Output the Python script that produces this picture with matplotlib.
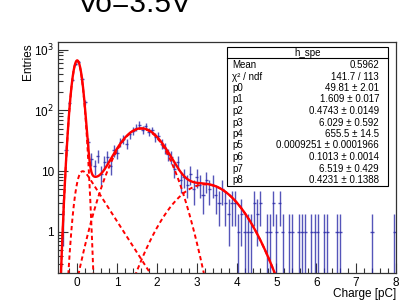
import numpy as np
import matplotlib
matplotlib.use("Agg")
import matplotlib.pyplot as plt
from matplotlib.ticker import FixedLocator, NullFormatter
from math import erfc

plt.rcParams.update({
    'font.family': ['Liberation Sans', 'DejaVu Sans'],
    'font.size': 8.5,
})

# histogram h_spe : bin width 0.08 pC, first bin centre -0.44 pC
bin_width = 0.08
first_center = -0.44
counts = [
    0, 2, 22, 130, 320, 580, 620, 330, 135, 30,
    16, 12, 18, 9, 14, 17, 12, 22, 20, 30,
    34, 28, 40, 46, 52, 58, 48, 55, 44, 47,
    36, 38, 28, 24, 19, 17, 11, 14, 7, 8,
    6, 9, 5, 8, 6, 4, 7, 5, 6, 4,
    3, 5, 3, 2, 3, 3, 1, 2, 1, 1,
    1, 3, 2, 3, 0, 1, 1, 3, 1, 3,
    1, 0, 1, 1, 0, 1, 1, 1, 0, 1,
    1, 1, 0, 1, 1, 0, 0, 1, 1, 0,
    0, 0, 0, 0, 0, 0, 0, 0, 1, 0,
    0, 0, 0, 0, 0, 1,
]

# fit results shown in the stats box
stat_names = ['Mean', 'χ² / ndf', 'p0', 'p1', 'p2', 'p3', 'p4', 'p5', 'p6', 'p7', 'p8']
stat_values = ['0.5962', '141.7 / 113', '49.81 ± 2.01', '1.609 ± 0.017',
               '0.4743 ± 0.0149', '6.029 ± 0.592', '655.5 ± 14.5',
               '0.0009251 ± 0.0001966', '0.1013 ± 0.0014', '6.519 ± 0.429',
               '0.4231 ± 0.1388']
p = [49.81, 1.609, 0.4743, 6.029, 655.5, 0.0009251, 0.1013, 6.519, 0.4231]


def pedestal(x):
    return p[4] * np.exp(-(x - p[5]) ** 2 / (2 * p[6] ** 2))


def spe(x):
    return p[0] * np.exp(-(x - p[1]) ** 2 / (2 * p[2] ** 2))


def two_pe(x):
    s = np.sqrt(2) * p[2]
    return p[3] * np.exp(-(x - 2 * p[1]) ** 2 / (2 * s ** 2))


def expo_bkg(x):
    s, tau = p[6], p[8]
    arg = (s / tau - (x - p[5]) / s) / np.sqrt(2)
    e = np.array([erfc(a) for a in arg])
    return p[7] / tau * np.exp(s ** 2 / (2 * tau ** 2) - (x - p[5]) / tau) * 0.5 * e


W, H = 416, 303
fig = plt.figure(figsize=(W / 100, H / 100), dpi=100)
ax = fig.add_axes([58 / W, 1 - 273 / H, (396 - 58) / W, (273 - 42) / H])

ax.set_yscale('log')
ax.set_xlim(-0.48, 8.0)
ax.set_ylim(0.21, 1330)

# data points with errors
counts = np.array(counts, dtype=float)
centers = first_center + bin_width * np.arange(len(counts))
m = counts > 0
n = counts[m]
err = np.sqrt(n)
lo = np.where(n - err > 0, n - err, 1e-3)
ax.errorbar(centers[m], n, yerr=[n - lo, err], xerr=bin_width / 2,
            fmt='none', ecolor='#2a2aa8', elinewidth=1.0, alpha=0.8, capsize=0)

# fit and its components
xf = np.linspace(-0.48, 8.0, 1500)
for comp in (pedestal, spe, two_pe, expo_bkg):
    ax.plot(xf, comp(xf), color='red', lw=1.4, ls=(0, (2.2, 1.6)))
total = pedestal(xf) + spe(xf) + two_pe(xf) + expo_bkg(xf)
ax.plot(xf, total, color='red', lw=1.7)

# axes styling (ROOT-like)
ax.xaxis.set_major_locator(FixedLocator(range(0, 9)))
ax.xaxis.set_minor_locator(FixedLocator(np.arange(-0.4, 8.01, 0.2)))
ax.set_yticks([1, 10, 100, 1000])
ax.set_yticklabels(['1', '10', '10$^{2}$', '10$^{3}$'])
ax.yaxis.set_minor_formatter(NullFormatter())
ax.tick_params(which='both', direction='in', top=False, right=False,
               labelsize=8.5, width=0.8, color='#333333')
ax.tick_params(which='major', length=7, pad=3)
ax.tick_params(which='minor', length=3.5)
for sp in ax.spines.values():
    sp.set_linewidth(0.9)
    sp.set_color('#333333')

fig.text(396 / W, 1 - 294 / H, 'Charge [pC]', ha='right', va='center', fontsize=8.5)
fig.text(28 / W, 1 - 43 / H, 'Entries', ha='center', va='top', rotation=90, fontsize=8.5)

# title, partly outside the canvas like the reference
fig.text(78 / W, 1 - 12 / H, 'Vo=3.5V', ha='left', va='baseline', fontsize=21.5)

# stats box
bx0, bx1, by0, by1 = 227, 388, 47, 186
fig.patches.append(plt.Rectangle((bx0 / W, 1 - by1 / H), (bx1 - bx0) / W, (by1 - by0) / H,
                                 transform=fig.transFigure, facecolor='white',
                                 edgecolor='black', lw=0.8, zorder=5))
fig.lines.append(plt.Line2D([bx0 / W, bx1 / W], [1 - 58.5 / H, 1 - 58.5 / H],
                            transform=fig.transFigure, color='black', lw=0.8, zorder=6))
fig.text((bx0 + bx1) / 2 / W, 1 - 53 / H, 'h_spe', ha='center', va='center',
         fontsize=7, zorder=7)
for i, (k, v) in enumerate(zip(stat_names, stat_values)):
    y = 1 - (65 + 11.5 * i) / H
    fig.text((bx0 + 5) / W, y, k, ha='left', va='center', fontsize=7, zorder=7)
    fig.text((bx1 - 9) / W, y, v, ha='right', va='center', fontsize=7, zorder=7)

fig.savefig('out.png', dpi=100)
